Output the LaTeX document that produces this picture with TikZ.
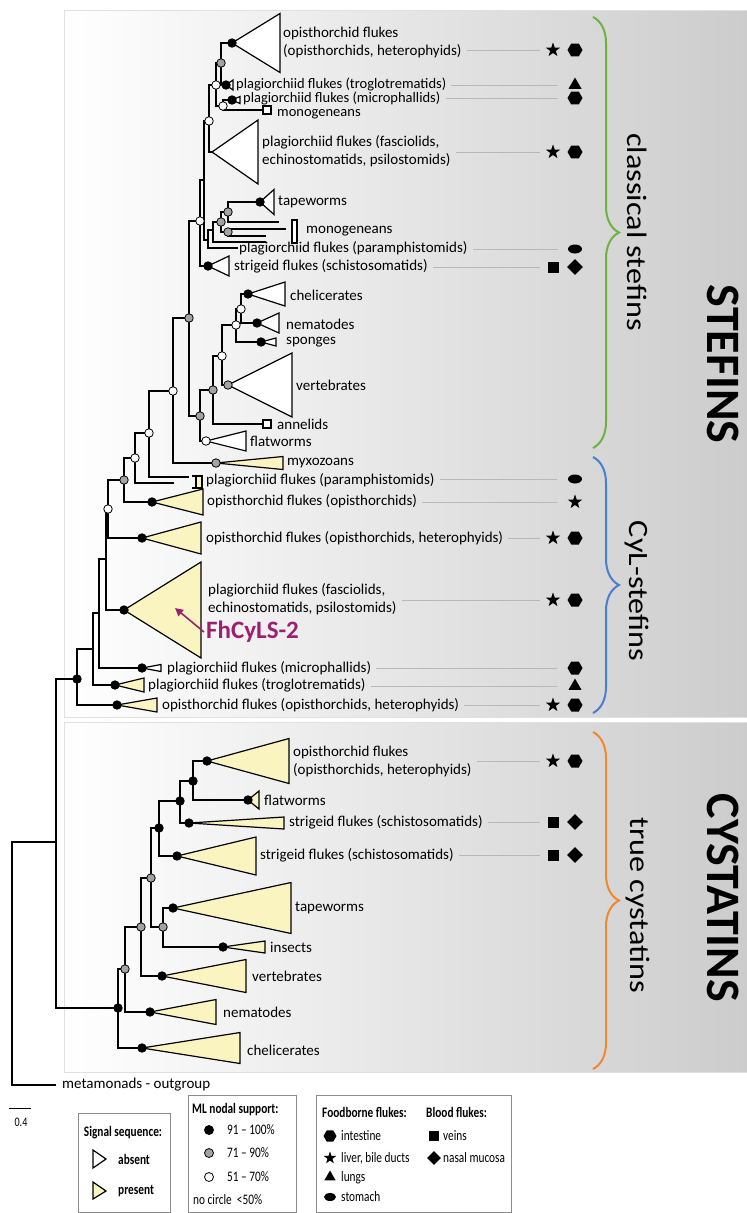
\documentclass[tikz,border=0pt]{standalone}
\usepackage{fontspec}
\setmainfont{Carlito}
\newfontfamily\widefont[FakeStretch=1.15,Ligatures=TeX]{Carlito}
\newfontfamily\condfont[FakeStretch=0.78,Ligatures=TeX]{Carlito}
\usetikzlibrary{shapes.geometric,decorations.pathreplacing,arrows.meta}

\definecolor{cladeyel}{HTML}{FAF5C0}
\definecolor{supgray}{HTML}{A3A3A3}
\definecolor{bracegreen}{HTML}{6DB33F}
\definecolor{braceblue}{HTML}{4A7FD0}
\definecolor{braceorange}{HTML}{F0882E}
\definecolor{fhmag}{HTML}{9E1F6F}

\begin{document}
\begin{tikzpicture}[x=1pt,y=-1pt,
  branch/.style={line width=1.3pt,line cap=rect},
  tri/.style={line width=1.2pt,line join=miter},
  supa/.style={circle,draw=black,fill=black,line width=0.8pt,minimum size=8.5pt,inner sep=0pt},
  supb/.style={supa,fill=supgray},
  supc/.style={supa,fill=white},
  lab/.style={anchor=west,inner sep=0pt,align=left,font=\fontsize{15}{18}\selectfont},
  guide/.style={black!28,line width=0.6pt},
  hexsym/.style={regular polygon,regular polygon sides=6,fill=black,minimum size=15pt,inner sep=0pt},
  starsym/.style={star,star points=5,star point ratio=2.5,fill=black,minimum size=15pt,inner sep=0pt},
  trisym/.style={regular polygon,regular polygon sides=3,fill=black,minimum size=15pt,inner sep=0pt},
  ellsym/.style={ellipse,fill=black,minimum width=14pt,minimum height=9pt,inner sep=0pt},
  sqsym/.style={rectangle,fill=black,minimum size=11pt,inner sep=0pt},
  diasym/.style={diamond,fill=black,minimum size=16pt,inner sep=0pt},
  brace/.style={decorate,decoration={brace,amplitude=26pt},line width=2pt},
  sidet/.style={rotate=-90,inner sep=0pt,font=\widefont\fontsize{28}{28}\selectfont},
  bigt/.style={rotate=-90,inner sep=0pt,font=\bfseries\fontsize{48}{48}\selectfont},
  legbox/.style={draw=black!45,line width=1pt},
  legt/.style={anchor=west,inner sep=0pt,font=\condfont\fontsize{14.5}{16}\selectfont},
  legh/.style={anchor=west,inner sep=0pt,font=\condfont\bfseries\fontsize{14.5}{16}\selectfont}]
\useasboundingbox (0,0) rectangle (747,1213);

% the two shaded panels
\shade[left color=white,right color=black!20] (64,10) rectangle (747,717);
\draw[black!12,line width=1pt] (64,10) rectangle (747,717);
\shade[left color=white,right color=black!20] (64,722) rectangle (747,1072);
\draw[black!12,line width=1pt] (64,722) rectangle (747,1072);

% collapsed clades: vertex x / y, right edge, half height, fill
\foreach \n/\x/\y/\r/\h/\f in {
  lopT/232/43/280/29.5/white, ltrT/226/85/233/5/white, lmiT/232/100/240/3.5/white,
  lfaT/212/152/258/32/white, ltpT/260/202/274/12.5/white, lstT/208/266/229/10/white,
  lchT/248/294/285/12/white, lneT/257/323/279/10/white, lspT/261/342/276/4/white,
  lveT/228/385/292/32/white, lflT/206/441/246/10/white,
  lmyC/216/463/283/6.5/cladeyel, lopC/152/502/203/13/cladeyel, lohC/142/538/201/16/cladeyel,
  lfhC/124/610/201/48/cladeyel, lmiC/142/668/161/3.5/white, ltrC/115/685/144/7/cladeyel,
  lohCb/117/705/157/7/cladeyel,
  lohY/207/761/289/22.5/cladeyel, lflY/248/800/259/9/cladeyel, lstYa/189/823/284/6/cladeyel,
  lstYb/177/856/256/19/cladeyel, ltpY/173/908/291/25.5/cladeyel, linY/223/947/265/6/cladeyel,
  lveY/162/976/246/16.5/cladeyel, lneY/150/1012/216/12.5/cladeyel, lchY/142/1048/240/15.5/cladeyel}{
  \coordinate (\n) at (\x,\y);
  \filldraw[tri,fill=\f] (\x,\y) -- (\r,\y-\h) -- (\r,\y+\h) -- cycle;}

% inner nodes
\foreach \n/\x/\y in {R0/12/842, A/56/842,
  S1/77/679, S2/93/649, S3/99/613, S4/106/559, S5/108/509, S6/124/480, S7/135/458,
  S8/149/433, S9/173/391, S10/189/318, S11/200/221, S12/200/416, S13/213/390,
  S14/222/356, S15/236/325, S16/241/309, S17/204/180, S18/209/121, S19/216/85,
  S20/221/63, S21/223/106, T0/208/240, T1/213/230, T2/221/222, T3/228/212, T4/228/232,
  C1/118/1008, C2/125/969, C3/141/927, C4/151/878, C5/159/828, C6/163/927,
  C7/180/801, C8/193/781}
  \coordinate (\n) at (\x,\y);

% free branch ends
\foreach \n/\x/\y in {og/55/1085, pCa/188/477, pCb/173/483, pT/237/248,
  mA/278/222, mB/285/229, mD/265/236, mC/265/242, mE/262/110, anE/262/424}
  \coordinate (\n) at (\x,\y);

% branches
\foreach \p/\c in {R0/A, R0/og, A/S1, A/C1,
  S1/S2, S1/lohCb, S2/S3, S2/ltrC, S3/S4, S3/lmiC, S4/S5, S4/lfhC,
  S5/S6, S5/lohC, S6/S7, S6/lopC, S7/S8, S7/pCb, S8/S9, S8/pCa,
  S9/S10, S9/lmyC, S10/S11, S10/S12, S12/S13, S12/lflT, S13/S14, S13/anE,
  S14/S15, S14/lveT, S15/S16, S15/lspT, S16/lchT, S16/lneT,
  S11/S17, S11/lstT, S17/S18, S17/T0, T0/T1, T0/pT, T1/T2, T1/mC,
  T2/T3, T2/T4, T3/ltpT, T3/mA, T4/mB, T4/mD,
  S18/S19, S18/lfaT, S19/S20, S19/S21, S20/lopT, S20/ltrT, S21/lmiT, S21/mE,
  C1/C2, C1/lchY, C2/C3, C2/lneY, C3/C4, C3/lveY, C4/C5, C4/C6,
  C6/ltpY, C6/linY, C5/C7, C5/lstYb, C7/C8, C7/lstYa, C8/lohY, C8/lflY}
  \draw[branch] (\p) |- (\c);

% clades collapsed to a bar, and single-taxon squares
\filldraw[tri,fill=white] (292,220) rectangle (297,243);
\draw[tri] (192,476) -- (196,476) -- (196,488) -- (192,488);
\filldraw[tri,fill=cladeyel] (196,476) rectangle (202,488);
\filldraw[tri,fill=white] (263,106) rectangle (271,114);
\filldraw[tri,fill=white] (263,420) rectangle (271,428);

% nodal support
\foreach \c in {S1, C1, C5, C7, C8, lopT, ltrT, lmiT, ltpT, lstT, lchT, lneT, lspT,
  lopC, lohC, lfhC, lmiC, ltrC, lohCb, lohY, lflY, lstYa, lstYb, ltpY, linY, lveY, lneY, lchY}
  \node[supa] (\c-s) at (\c) {};
\foreach \c in {S6, S10, S12, S13, S20, T2, T3, T4, C2, C3, C4, C6, lveT, lmyC}
  \node[supb] (\c-s) at (\c) {};
\foreach \c in {S5, S7, S8, S9, S11, S14, S15, S16, S18, S19, S21, lflT}
  \node[supc] (\c-s) at (\c) {};

% labels
\foreach \n/\x/\y/\t in {
  lopT/283/42/{opisthorchid flukes\\(opisthorchids, heterophyids)},
  lfaT/262/151/{plagiorchiid flukes (fasciolids,\\echinostomatids, psilostomids)},
  ltpT/278/202/{tapeworms},
  mnB/306/231/{monogeneans},
  pT/239/248/{plagiorchiid flukes (paramphistomids)},
  lstT/234/266/{strigeid flukes (schistosomatids)},
  lchT/290/295/{chelicerates},
  lneT/286/324/{nematodes},
  lspT/286/342/{sponges},
  lveT/296/385/{vertebrates},
  anT/277/424/{annelids},
  lflT/250/441/{flatworms},
  lmyC/287/463/{myxozoans},
  pC/206/480/{plagiorchiid flukes (paramphistomids)},
  lopC/207/501/{opisthorchid flukes (opisthorchids)},
  lohC/206/538/{opisthorchid flukes (opisthorchids, heterophyids)},
  lfhC/208/599/{plagiorchiid flukes (fasciolids,\\echinostomatids, psilostomids)},
  lmiC/167/668/{plagiorchiid flukes (microphallids)},
  ltrC/148/685/{plagiorchiid flukes (troglotrematids)},
  lohCb/162/705/{opisthorchid flukes (opisthorchids, heterophyids)},
  lohY/293/761/{opisthorchid flukes\\(opisthorchids, heterophyids)},
  lflY/264/800/{flatworms},
  lstYa/289/822/{strigeid flukes (schistosomatids)},
  lstYb/260/855/{strigeid flukes (schistosomatids)},
  ltpY/295/908/{tapeworms},
  linY/270/947/{insects},
  lveY/252/976/{vertebrates},
  lneY/223/1012/{nematodes},
  lchY/247/1050/{chelicerates},
  og/62/1085/{metamonads - outgroup}}
  \node[lab] (\n-l) at (\x,\y) {\t};
% the three crowded ones near the top
\foreach \n/\x/\y/\t in {
  ltrT/236/84/{plagiorchiid flukes (troglotrematids)},
  lmiT/243/98/{plagiorchiid flukes (microphallids)},
  mnA/277/114/{monogeneans}}
  \node[lab,font=\fontsize{14.5}{17}\selectfont] (\n-l) at (\x,\y) {\t};

% guide lines out to the host-site symbols
\foreach \n/\y/\e in {lopT/50/540, ltrT/85/558, lmiT/98/558, lfaT/152/540, pT/249/558,
  lstT/267/540, pC/479/557, lopC/502/557, lohC/538/540, lfhC/600/540, lmiC/668/557,
  ltrC/686/557, lohCb/705/540, lohY/761/540, lstYa/822/540, lstYb/855/540}{
  \path (\n-l.east) ++(5,0) coordinate (\n-g);
  \draw[guide] (\n-g |- 0,\y) -- (\e,\y);}

\foreach \y in {50,152,538,600,705,761}{
  \node[starsym] (st\y) at (553,\y) {};
  \node[hexsym] (hx\y) at (575,\y) {};}
\foreach \y in {98,668} \node[hexsym] (hx\y) at (575,\y) {};
\foreach \y in {85,686} \node[trisym] (tr\y) at (575,\y) {};
\foreach \y in {249,479} \node[ellsym] (el\y) at (575,\y) {};
\node[starsym] (st502) at (575,502) {};
\foreach \y in {267,822,855}{
  \node[sqsym] (sq\y) at (553,\y) {};
  \node[diasym] (di\y) at (575,\y) {};}

% FhCyLS-2
\coordinate (fhtip) at (175,608);
\node[anchor=west,inner sep=0pt,text=fhmag,font=\bfseries\fontsize{25}{25}\selectfont] (fh) at (206,632) {FhCyLS-2};
\draw[fhmag,line width=1.6pt,-{Triangle[length=8pt,width=8pt]}] ([xshift=-2pt]fh.west) -- (fhtip);

% family braces
\draw[brace,bracegreen] (593,17) -- (593,448);
\draw[brace,braceblue] (593,457) -- (593,713);
\draw[brace,braceorange] (593,732) -- (593,1069);
\node[sidet] (cls) at (637,232) {classical stefins};
\node[sidet] (cyl) at (637,591) {CyL-stefins};
\node[sidet] (tru) at (638,905) {true cystatins};
\node[bigt] (stf) at (723,364) {STEFINS};
\node[bigt] (cys) at (723,898) {CYSTATINS};

% scale bar
\draw[line width=1pt] (9,1108) -- (31,1108);
\node[inner sep=0pt,font=\condfont\fontsize{13}{14}\selectfont] (sc) at (21,1122) {0.4};

% legend: signal sequence
\draw[legbox] (78,1113) rectangle (170,1212);
\node[legh,anchor=center] (sgh) at (123,1133) {Signal sequence:};
\filldraw[tri,fill=white] (93,1150) -- (106,1159) -- (93,1168) -- cycle;
\filldraw[tri,fill=cladeyel] (93,1182) -- (106,1191) -- (93,1199) -- cycle;
\node[legh] (sga) at (118,1159) {absent};
\node[legh] (sgp) at (118,1191) {present};

% legend: ML nodal support
\draw[legbox] (188,1095) rectangle (296,1212);
\node[legh] (mlh) at (192,1110) {ML nodal support:};
\node[supa,minimum size=9pt] (mla) at (209,1130) {};
\node[supb,minimum size=9pt] (mlb) at (209,1153) {};
\node[supc,minimum size=9pt] (mlc) at (209,1177) {};
\node[legt] (mlat) at (227,1130) {91 – 100\%};
\node[legt] (mlbt) at (227,1153) {71 – 90\%};
\node[legt] (mlct) at (227,1177) {51 – 70\%};
\node[legt] (mlnt) at (193,1200) {no circle\ \ <50\%};

% legend: site of infection
\draw[legbox] (316,1095) rectangle (511,1212);
\node[legh] (fbh) at (322,1112) {Foodborne flukes:};
\node[legh] (blh) at (426,1112) {Blood flukes:};
\node[hexsym,minimum size=13pt] (lgh) at (330,1136) {};
\node[starsym,minimum size=13pt] (lgs) at (330,1158) {};
\node[trisym,minimum size=13pt] (lgt) at (330,1177) {};
\node[ellsym,minimum width=12pt,minimum height=8pt] (lge) at (330,1197) {};
\node[legt] (lght) at (341,1136) {intestine};
\node[legt] (lgst) at (341,1158) {liver, bile ducts};
\node[legt] (lgtt) at (341,1178) {lungs};
\node[legt] (lget) at (341,1197) {stomach};
\node[sqsym,minimum size=10pt] (lgq) at (434,1136) {};
\node[diasym,minimum size=14pt] (lgd) at (434,1158) {};
\node[legt] (lgqt) at (443,1136) {veins};
\node[legt] (lgdt) at (443,1158) {nasal mucosa};
\end{tikzpicture}
\end{document}
